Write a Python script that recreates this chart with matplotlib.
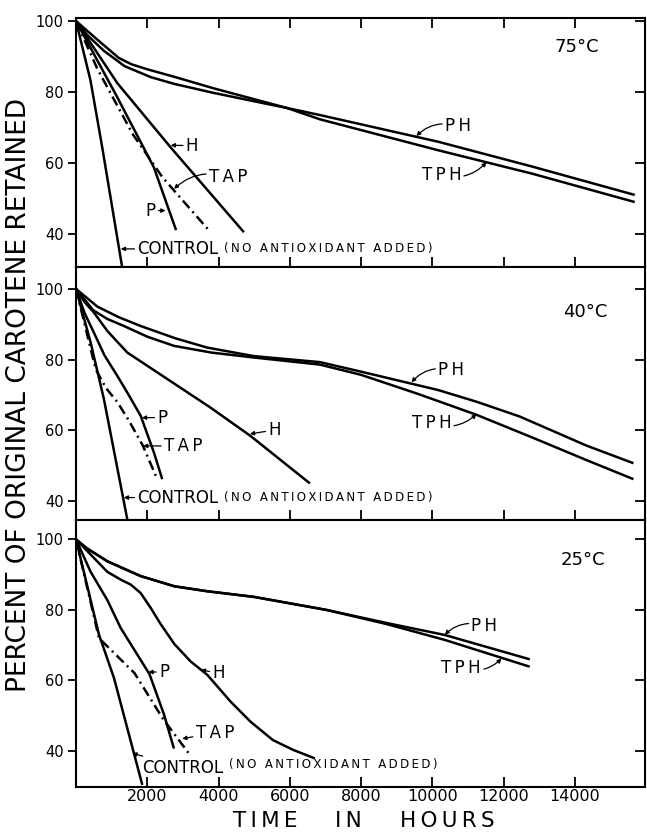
import matplotlib
matplotlib.use('Agg')
import matplotlib.pyplot as plt

# ── Data (hours, % carotene retained) ───────────────────────────────────────

# 75 °C
c75_x = [0, 5.1, 9.2, 16.2]
c75_y = [100, 83.2, 64.4, 30.6]
p75_x = [0, 14.5, 27.3, 35.1]
p75_y = [100, 78.5, 58.8, 41.1]
tap75_x = [0, 7.5, 20, 30.3, 47.2]
tap75_y = [100, 86.5, 68, 56, 40.5]
h75_x = [0, 14.5, 33.2, 58.9]
h75_y = [100, 82.5, 64.4, 40.5]
ph75_x = [0, 4, 9.8, 17, 26.2, 34.4, 48, 62.4, 74, 85.6, 127, 160, 196]
ph75_y = [100, 96, 91.6, 87.3, 84.2, 82.3, 79.8, 77.4, 75.5, 73.5, 66, 59, 51]
tph75_x = [0, 8, 15, 19.5, 25, 34.4, 48, 62.4, 74, 85.6, 127, 160, 196]
tph75_y = [100, 94.4, 89.6, 87.8, 86.4, 84.3, 81.1, 78, 75.5, 72.3, 63.6, 57, 49]

# 40 °C
c40_x = [0, 103, 196, 360]
c40_y = [100, 84.8, 68.8, 34.8]
p40_x = [0, 60, 126, 200, 290, 370, 454, 547, 605]
p40_y = [100, 93.2, 87.6, 81.2, 75.4, 70, 64.1, 53.7, 46.2]
tap40_x = [0, 138, 210, 290, 372, 470, 570]
tap40_y = [100, 77.3, 72, 68, 62.7, 55.6, 46.2]
h40_x = [0, 60, 126, 220, 360, 945, 1225, 1641]
h40_y = [100, 96.3, 93.3, 88.1, 82, 66.4, 58.4, 45]
ph40_x = [0, 150, 300, 454, 700, 921, 1248, 1711, 2000, 2541, 2810, 3114, 3581, 3911]
ph40_y = [100, 95, 92, 89.5, 86, 83.4, 81, 79.3, 76.6, 71.4, 68.1, 63.9, 55.7, 50.7]
tph40_x = [0, 120, 220, 337, 500, 687, 950, 1248, 1711, 2000, 2400, 2810, 3200, 3581, 3911]
tph40_y = [100, 94, 91.5, 89.5, 86.5, 83.9, 82, 80.6, 78.6, 75.7, 70.3, 64.4, 58, 51.6, 46.2]

# 25 °C
c25_x = [0, 645, 1066, 1861]
c25_y = [100, 73, 60.7, 30.4]
p25_x = [0, 411, 879, 1253, 2062, 2468, 2749]
p25_y = [100, 90.8, 82.8, 74.9, 61.8, 50.4, 40.7]
tap25_x = [0, 645, 1641, 2449, 3198]
tap25_y = [100, 72, 62.1, 49, 38.9]
h25_x = [0, 317, 879, 1253, 1534, 1814, 2095, 2375, 2763, 3217, 3684, 4339, 4900, 5526, 6100, 6704]
h25_y = [100, 96.7, 90.8, 88.6, 87.2, 84.8, 80.6, 76, 70.3, 65.4, 61.6, 54, 48.3, 43.1, 40.3, 37.9]
ph25_x = [0, 300, 879, 1814, 2763, 3684, 4993, 7032, 8715, 10350, 12735]
ph25_y = [100, 97.5, 93.8, 89.6, 86.7, 85.3, 83.7, 80, 76.3, 72.9, 66]
tph25_x = [0, 300, 879, 1814, 2763, 3684, 4993, 7032, 8715, 10350, 12735]
tph25_y = [100, 97.5, 93.8, 89.6, 86.7, 85.3, 83.7, 80, 76, 71.5, 63.9]

xticks75 = [25, 50, 75, 100, 125, 150, 175]
xticks40 = [500, 1000, 1500, 2000, 2500, 3000, 3500]
xticks25 = [2000, 4000, 6000, 8000, 10000, 12000, 14000]
yticks = [40, 60, 80, 100]
xlabel_words = ['TIME', 'IN', 'HOURS']

# ── Plot ──────────────────────────────────────────────────────────────────────
plt.rcParams['font.family'] = 'DejaVu Sans'
fig = plt.figure(figsize=(6.47, 8.33), dpi=100)

L, W = 76 / 647, 569 / 647
ax1 = fig.add_axes([L, 1 - 267 / 833, W, 249 / 833])
ax2 = fig.add_axes([L, 1 - 520 / 833, W, 253 / 833])
ax3 = fig.add_axes([L, 1 - 787 / 833, W, 267 / 833])

LW = 1.8
tap_dash = (0, (4, 1.8, 0.8, 1.8))
TS = '\u2009'  # thin space, for the letter-spaced lettering


def spaced(s):
    return TS.join(s)


def draw(ax, curves, xticks, xlim, ylim, top_ticks, xfs=12, xpad=3):
    for x, y, ls in curves:
        ax.plot(x, y, color='black', lw=LW, linestyle=ls, solid_capstyle='butt',
                solid_joinstyle='round')
    ax.set_xlim(*xlim)
    ax.set_ylim(*ylim)
    ax.set_xticks(xticks)
    ax.set_xticklabels([str(t) for t in xticks])
    ax.set_yticks(yticks)
    for s in ax.spines.values():
        s.set_linewidth(1.5)
    ax.tick_params(axis='x', direction='in', length=7, width=1.3, pad=xpad,
                   labelsize=xfs, top=top_ticks)
    ax.tick_params(axis='y', left=True, right=True, labelsize=10.5, width=1.3,
                   direction='out', length=6, pad=3)
    for t in ax.yaxis.get_major_ticks():
        t.tick2line.set_marker(matplotlib.lines.TICKLEFT)
        t.tick2line.set_markersize(7)


def label(ax, text, tip, pos, rad=0.0, fs=12):
    return ax.annotate(text, xy=tip, xytext=pos, fontsize=fs, ha='left', va='center',
                       arrowprops=dict(arrowstyle='-|>', lw=0.9, color='black',
                                       mutation_scale=6, shrinkA=0, shrinkB=0,
                                       connectionstyle=f'arc3,rad={rad}'))


def control_label(ax, tip, pos):
    t = label(ax, 'CONTROL', tip, pos)
    ax.annotate(spaced('(NO ANTIOXIDANT ADDED)'), xy=(1, 0.5), xycoords=t,
                xytext=(4, 0), textcoords='offset points',
                ha='left', va='center', fontsize=8.5)


# 75 °C
draw(ax1, [(c75_x, c75_y, '-'), (p75_x, p75_y, '-'), (tap75_x, tap75_y, tap_dash),
           (h75_x, h75_y, '-'), (ph75_x, ph75_y, '-'), (tph75_x, tph75_y, '-')],
     xticks75, (0, 199.6), (30.7, 100.85), True)
label(ax1, 'H', (33.2, 65.0), (38.5, 64.9))
label(ax1, spaced('TAP'), (34.4, 52.7), (46.6, 56.0), rad=0.3)
label(ax1, 'P', (31.4, 46.6), (24.4, 46.6))
control_label(ax1, (15.7, 35.8), (21.5, 35.8))
label(ax1, spaced('PH'), (119.4, 67.6), (129.4, 70.4), rad=0.3)
label(ax1, spaced('TPH'), (144, 60.2), (121.2, 56.6), rad=0.3)
ax1.text(175.7, 92.7, '75°C', fontsize=13, ha='center', va='center')

# 40 °C
draw(ax2, [(c40_x, c40_y, '-'), (p40_x, p40_y, '-'), (tap40_x, tap40_y, tap_dash),
           (h40_x, h40_y, '-'), (ph40_x, ph40_y, '-'), (tph40_x, tph40_y, '-')],
     xticks40, (0, 3992), (34.65, 106.2), False)
label(ax2, 'P', (462, 63.6), (570, 63.6))
label(ax2, spaced('TAP'), (470, 55.6), (617, 55.6))
label(ax2, 'H', (1220, 59.0), (1349, 60.1))
control_label(ax2, (335, 41.0), (430, 41.0))
label(ax2, spaced('PH'), (2354, 73.6), (2541, 77.1), rad=0.3)
label(ax2, spaced('TPH'), (2810, 64.6), (2354, 62.0), rad=0.3)
ax2.text(3570, 93.6, '40°C', fontsize=13, ha='center', va='center')

# 25 °C
draw(ax3, [(c25_x, c25_y, '-'), (p25_x, p25_y, '-'), (tap25_x, tap25_y, tap_dash),
           (h25_x, h25_y, '-'), (ph25_x, ph25_y, '-'), (tph25_x, tph25_y, '-')],
     xticks25, (0, 15968), (29.8, 105.5), False, xfs=11.5, xpad=1.5)
label(ax3, 'P', (2030, 62.4), (2328, 62.4))
label(ax3, 'H', (3500, 63.0), (3824, 62.1))
label(ax3, spaced('TAP'), (2980, 43.5), (3357, 45.1))
control_label(ax3, (1580, 39.4), (1861, 35.2))
label(ax3, spaced('PH'), (10350, 73.0), (11098, 75.5), rad=0.3)
label(ax3, spaced('TPH'), (11941, 66.2), (10257, 63.5), rad=0.3)
ax3.text(14230, 94.2, '25°C', fontsize=13, ha='center', va='center')

fig.text(19 / 647, 1 - 395 / 833, 'PERCENT OF ORIGINAL CAROTENE RETAINED',
         rotation=90, ha='center', va='center', fontsize=19)
for word, xc in zip(xlabel_words, [265, 348, 447]):
    fig.text(xc / 647, 1 - 821 / 833, spaced(word),
             ha='center', va='center', fontsize=15.5)

plt.savefig('out.png', dpi=100, facecolor='white')
